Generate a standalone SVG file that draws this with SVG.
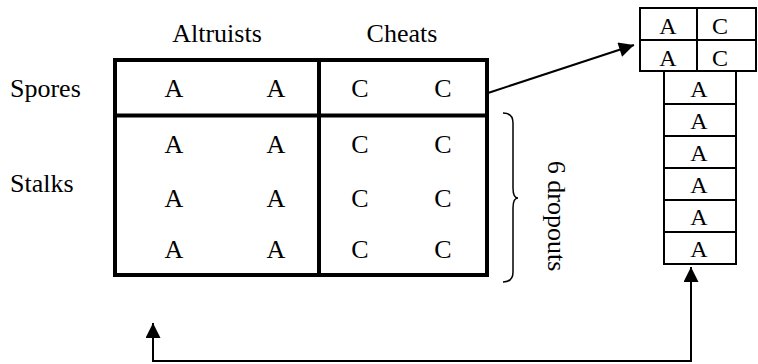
<svg xmlns="http://www.w3.org/2000/svg" width="758" height="364" viewBox="0 0 758 364">
<defs>
<style>
text{font-family:"Liberation Serif","Times New Roman",serif;fill:#000}
.big{font-size:26px;text-anchor:middle}
.lbl{font-size:26px}
.sm{font-size:24px;text-anchor:middle}
.thick{fill:none;stroke:#000;stroke-width:4}
.thin{fill:none;stroke:#000;stroke-width:2}
.conn{fill:none;stroke:#000;stroke-width:2}
</style>
<marker id="ah" viewBox="0 0 16 16" refX="16" refY="8" markerWidth="16" markerHeight="15" markerUnits="userSpaceOnUse" orient="auto-start-reverse">
<path d="M0,0 L16,8 L0,16 z" fill="#000"/>
</marker>
</defs>
<rect width="758" height="364" fill="#fff"/>

<g id="headers">
<text class="big" x="217" y="42">Altruists</text>
<text class="big" x="402" y="42">Cheats</text>
<text class="lbl" x="10" y="97">Spores</text>
<text class="lbl" x="10" y="192">Stalks</text>
</g>

<g id="population-table">
<rect class="thick" x="115" y="60" width="372" height="215"/>
<line class="thick" x1="319" y1="60" x2="319" y2="275"/>
<line class="thick" x1="115" y1="115.5" x2="487" y2="115.5"/>
<text class="big" x="174" y="97">A</text><text class="big" x="276" y="97">A</text><text class="big" x="360" y="97">C</text><text class="big" x="443" y="97">C</text>
<text class="big" x="174" y="153">A</text><text class="big" x="276" y="153">A</text><text class="big" x="360" y="153">C</text><text class="big" x="443" y="153">C</text>
<text class="big" x="174" y="207">A</text><text class="big" x="276" y="207">A</text><text class="big" x="360" y="207">C</text><text class="big" x="443" y="207">C</text>
<text class="big" x="174" y="258">A</text><text class="big" x="276" y="258">A</text><text class="big" x="360" y="258">C</text><text class="big" x="443" y="258">C</text>
</g>

<g id="dropouts">
<path d="M503,113 Q513,113 513,123 L513,188 Q513,198 518,198 Q513,198 513,208 L513,272 Q513,282 503,282" fill="none" stroke="#000" stroke-width="1.5"/>
<text class="big" transform="translate(548,216) rotate(90)">6 dropouts</text>
</g>

<g id="spore-box">
<rect class="thin" x="640" y="8" width="116" height="63"/>
<line class="thin" x1="640" y1="40" x2="756" y2="40"/>
<line class="thin" x1="697" y1="8" x2="697" y2="71"/>
<text class="sm" x="668" y="34">A</text>
<text class="sm" x="720" y="34">C</text>
<text class="sm" x="668" y="66">A</text>
<text class="sm" x="720" y="66">C</text>
</g>

<g id="stalk-column">
<rect class="thin" x="664" y="71" width="72" height="193"/>
<line class="thin" x1="664" y1="104" x2="736" y2="104"/>
<line class="thin" x1="664" y1="136" x2="736" y2="136"/>
<line class="thin" x1="664" y1="168" x2="736" y2="168"/>
<line class="thin" x1="664" y1="200" x2="736" y2="200"/>
<line class="thin" x1="664" y1="232" x2="736" y2="232"/>
<text class="sm" x="699" y="97">A</text>
<text class="sm" x="699" y="129">A</text>
<text class="sm" x="699" y="161">A</text>
<text class="sm" x="699" y="193">A</text>
<text class="sm" x="699" y="225">A</text>
<text class="sm" x="699" y="257">A</text>
</g>

<g id="connectors">
<line class="conn" x1="488" y1="93" x2="634" y2="45" marker-end="url(#ah)"/>
<path class="conn" d="M691,267 V361 H153 V323" marker-start="url(#ah)" marker-end="url(#ah)"/>
</g>
</svg>
